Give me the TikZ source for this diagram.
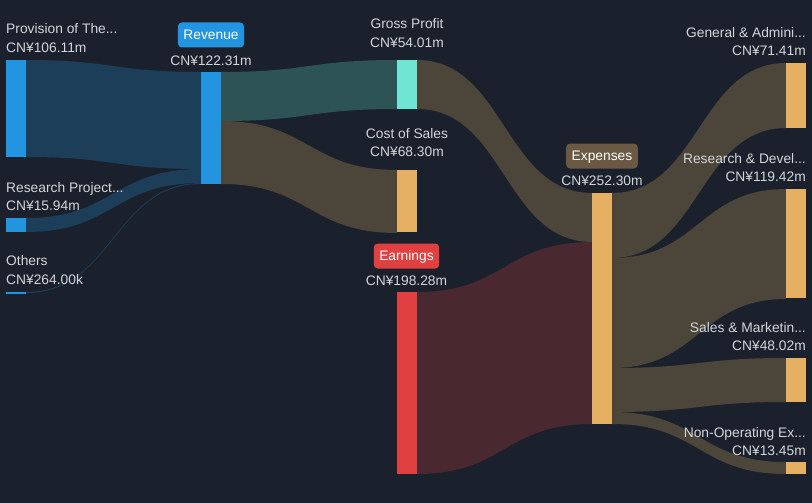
\documentclass[tikz,border=0pt]{standalone}
\usepackage{fontspec}
\setmainfont{Liberation Sans}
\usetikzlibrary{calc, positioning}

\definecolor{bgcol}{HTML}{1B212C}
\definecolor{txtcol}{HTML}{D2D5DA}
\definecolor{bluebar}{HTML}{2394E0}
\definecolor{blueflow}{HTML}{1D3E59}
\definecolor{tealbar}{HTML}{6FE5D3}
\definecolor{tealflow}{HTML}{2D5356}
\definecolor{orangebar}{HTML}{E5B062}
\definecolor{brownflow}{HTML}{4C4539}
\definecolor{redbar}{HTML}{E04040}
\definecolor{redflow}{HTML}{4A2830}
\definecolor{brownbadge}{HTML}{6B5943}

% flow band: source node, offset, thickness, target node, offset, colour
\newcommand{\sflow}[6]{%
  \fill[#6] let \p1=(#1.north east), \p2=(#4.north west), \n1={(\x2-\x1)/2} in
    (\x1,\y1-#2pt) .. controls (\x1+\n1,\y1-#2pt) and (\x2-\n1,\y2-#5pt) .. (\x2,\y2-#5pt)
    -- (\x2,\y2-#5pt-#3pt) .. controls (\x2-\n1,\y2-#5pt-#3pt) and (\x1+\n1,\y1-#2pt-#3pt) .. (\x1,\y1-#2pt-#3pt)
    -- cycle;}

\begin{document}
\begin{tikzpicture}[
    x=1pt, y=-1pt,
    bar/.style={rectangle, inner sep=0pt, outer sep=0pt, minimum width=20pt, anchor=north west},
    lbl/.style={text=txtcol, inner sep=0pt, text height=9.9pt, text depth=0pt},
    badge/.style={rounded corners=4pt, text=white, inner xsep=5.5pt, inner ysep=0pt,
                  minimum height=25pt, text height=9.9pt, text depth=0pt},
    font=\fontsize{13.8}{16}\selectfont
]

% background
\fill[bgcol] (0,0) rectangle (812,503);
\useasboundingbox (0,0) rectangle (812,503);

% Bars (positions only, filled after the flows)
\node[bar, minimum height=97pt] (prov) at (6,60) {};
\node[bar, minimum height=14pt] (resproj) at (6,218) {};
\node[bar, minimum height=1.5pt] (others) at (6,292) {};
\node[bar, minimum height=112pt] (rev) at (201,72) {};
\node[bar, minimum height=49pt] (gp) at (397,60) {};
\node[bar, minimum height=62pt] (cos) at (397,170) {};
\node[bar, minimum height=182pt] (earn) at (397,292) {};
\node[bar, minimum height=231pt] (exp) at (592,193) {};
\node[bar, minimum height=65pt] (ga) at (786,63) {};
\node[bar, minimum height=109pt] (rd) at (786,189) {};
\node[bar, minimum height=44pt] (sm) at (786,358) {};
\node[bar, minimum height=12pt] (nonop) at (786,462) {};

% Flows
\sflow{prov}{0}{97}{rev}{0}{blueflow}
\sflow{resproj}{0}{14}{rev}{97}{blueflow}
\sflow{others}{0}{1}{rev}{111}{blueflow}
\sflow{rev}{0}{49}{gp}{0}{tealflow}
\sflow{rev}{49}{63}{cos}{0}{brownflow}
\sflow{gp}{0}{49}{exp}{0}{brownflow}
\sflow{earn}{0}{182}{exp}{49}{redflow}
\sflow{exp}{0}{65}{ga}{0}{brownflow}
\sflow{exp}{65}{110}{rd}{0}{brownflow}
\sflow{exp}{175}{44}{sm}{0}{brownflow}
\sflow{exp}{219}{12}{nonop}{0}{brownflow}

% fill the bars on top of the flows
\foreach \b/\c in {prov/bluebar, resproj/bluebar, others/bluebar, rev/bluebar,
                   gp/tealbar, cos/orangebar, earn/redbar, exp/orangebar,
                   ga/orangebar, rd/orangebar, sm/orangebar, nonop/orangebar}
  \fill[\c] (\b.north west) rectangle (\b.south east);

% Left labels
\node[lbl, anchor=west] (provlabel) at (6,29) {Provision of The...};
\node[lbl, anchor=west] (provval) at (6,48) {CN¥106.11m};
\node[lbl, anchor=west] (resprojlabel) at (6,187.5) {Research Project...};
\node[lbl, anchor=west] (resprojval) at (6,206) {CN¥15.94m};
\node[lbl, anchor=west] (otherslabel) at (6,261) {Others};
\node[lbl, anchor=west] (othersval) at (6,280) {CN¥264.00k};

% Middle labels
\node[badge, fill=bluebar] (revbadge) at (211,35) {Revenue};
\node[lbl] (revval) at (211,60.5) {CN¥122.31m};
\node[lbl] (gplabel) at (407,24) {Gross Profit};
\node[lbl] (gpval) at (407,42.5) {CN¥54.01m};
\node[lbl] (coslabel) at (407,133.5) {Cost of Sales};
\node[lbl] (cosval) at (407,152) {CN¥68.30m};
\node[badge, fill=redbar] (earnbadge) at (406.5,256) {Earnings};
\node[lbl] (earnval) at (406.5,281) {CN¥198.28m};
\node[badge, fill=brownbadge] (expbadge) at (602,156) {Expenses};
\node[lbl] (expval) at (602,181) {CN¥252.30m};

% Right labels
\node[lbl, anchor=east] (galabel) at (806,32.5) {General \& Admini...};
\node[lbl, anchor=east] (gaval) at (806,51) {CN¥71.41m};
\node[lbl, anchor=east] (rdlabel) at (806,158.5) {Research \& Devel...};
\node[lbl, anchor=east] (rdval) at (806,177) {CN¥119.42m};
\node[lbl, anchor=east] (smlabel) at (806,327.5) {Sales \& Marketin...};
\node[lbl, anchor=east] (smval) at (806,346) {CN¥48.02m};
\node[lbl, anchor=east] (nonoplabel) at (806,432.5) {Non-Operating Ex...};
\node[lbl, anchor=east] (nonopval) at (806,451) {CN¥13.45m};

\end{tikzpicture}
\end{document}
